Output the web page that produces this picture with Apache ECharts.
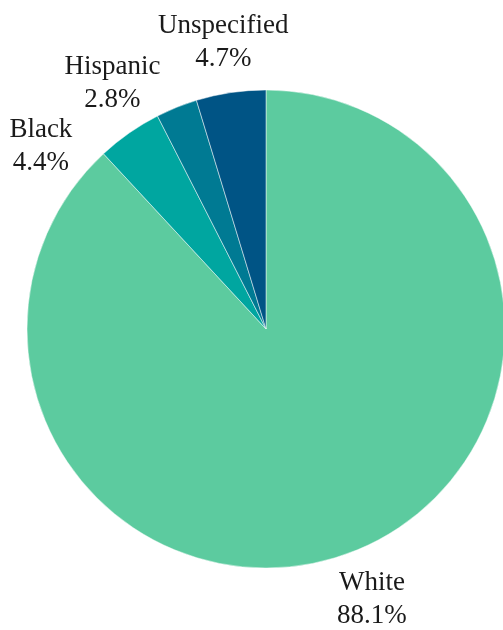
<!DOCTYPE html>
<html>
<head>
<meta charset="utf-8">
<script src="https://cdn.jsdelivr.net/npm/echarts@6/dist/echarts.min.js"></script>
<style>
html,body{margin:0;padding:0;background:#fff;}
#chart{width:503px;height:630px;}
</style>
</head>
<body>
<div id="chart"></div>
<script>
const categories = ['White', 'Black', 'Hispanic', 'Unspecified'];
const values = [88.1, 4.4, 2.8, 4.7];
const colors = ['#5ccb9f', '#00a6a0', '#007a93', '#005485'];
// label layout tweaks (degrees of angular shift to avoid overlap)
const labelShift = [0, -16, -10, 0];

const CX = 266, CY = 329, R = 239, LR = 290;
const total = values.reduce((a, b) => a + b, 0);
const midAngles = [];
let cum = 0;
values.forEach(v => { midAngles.push((cum + v / 2) / total * 360); cum += v; });

const chart = echarts.init(document.getElementById('chart'), null, {renderer: 'canvas'});
chart.setOption({
  animation: false,
  series: [{
    type: 'pie',
    center: [CX, CY],
    radius: [0, R],
    startAngle: 90,
    clockwise: true,
    avoidLabelOverlap: false,
    itemStyle: {borderColor: 'rgba(255,255,255,0.6)', borderWidth: 0.8},
    label: {
      show: true,
      position: 'outside',
      formatter: p => p.name + '\n' + p.value.toFixed(1) + '%',
      fontFamily: 'Liberation Serif',
      fontSize: 27,
      lineHeight: 33,
      color: '#1a1a1a'
    },
    labelLine: {show: false},
    labelLayout: function (params) {
      const i = params.dataIndex;
      const a = (midAngles[i] + labelShift[i]) * Math.PI / 180;
      return {
        x: CX + LR * Math.sin(a),
        y: CY - LR * Math.cos(a),
        align: 'center',
        verticalAlign: 'middle'
      };
    },
    emphasis: {disabled: true},
    data: categories.map((c, i) => ({name: c, value: values[i], itemStyle: {color: colors[i]}}))
  }]
});
</script>
</body>
</html>
